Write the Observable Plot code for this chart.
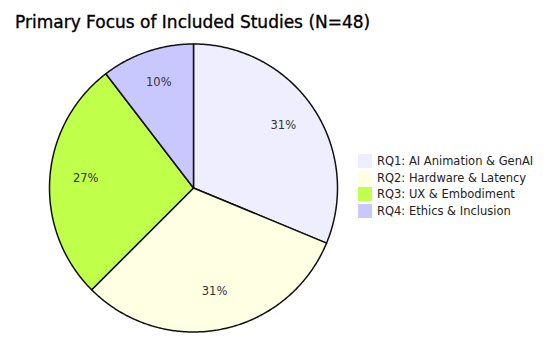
<!DOCTYPE html>
<html>
<head>
<meta charset="utf-8">
<script src="https://cdn.jsdelivr.net/npm/d3@7"></script>
<script src="https://cdn.jsdelivr.net/npm/@observablehq/plot@0.6"></script>
<style>
  body { margin: 0; background: #fff; font-family: "DejaVu Sans", sans-serif; }
  #wrap { position: relative; width: 550px; height: 348px; overflow: hidden; }
  #title { position: absolute; left: 15px; top: 12px; font-size: 17px; color: #000; white-space: nowrap; -webkit-text-stroke: 0.35px #000; }
  #chart { position: absolute; left: 0; top: 40px; }
  #legend { position: absolute; left: 358px; top: 153px; font-size: 11.5px; color: #222; }
  .row { height: 16.5px; display: flex; align-items: center; white-space: nowrap; }
  .sw { width: 14px; height: 14px; margin-right: 5px; }
</style>
</head>
<body>
<div id="wrap">
  <div id="title">Primary Focus of Included Studies (N=48)</div>
  <div id="chart"></div>
  <div id="legend"></div>
</div>
<script>
const categories = ["RQ1: AI Animation & GenAI", "RQ2: Hardware & Latency", "RQ3: UX & Embodiment", "RQ4: Ethics & Inclusion"];
const counts = [15, 15, 13, 5];
const percentLabels = ["31%", "31%", "27%", "10%"];
const colors = ["#eeeeff", "#ffffe3", "#c0ff4a", "#c8c8ff"];

const pie = d3.pie().sort(null).value(d => d.count)(categories.map((name, i) => ({name, count: counts[i], label: percentLabels[i]})));

// slice polygons in unit coordinates (angle measured clockwise from top)
const pts = [];
for (const s of pie) {
  pts.push({name: s.data.name, x: 0, y: 0});
  const n = Math.max(2, Math.ceil((s.endAngle - s.startAngle) / 0.01));
  for (let k = 0; k <= n; k++) {
    const a = s.startAngle + (s.endAngle - s.startAngle) * k / n;
    pts.push({name: s.data.name, x: Math.sin(a), y: Math.cos(a)});
  }
}
const labels = pie.map(s => {
  const a = (s.startAngle + s.endAngle) / 2;
  return {label: s.data.label, x: 0.75 * Math.sin(a), y: 0.75 * Math.cos(a)};
});

const cx = 193, cy = 147.5, R = 144;
const chart = Plot.plot({
  width: 550,
  height: 308,
  margin: 0,
  x: {domain: [-1, 1], range: [cx - R, cx + R], axis: null},
  y: {domain: [-1, 1], range: [cy + R, cy - R], axis: null},
  color: {domain: categories, range: colors},
  style: {background: "transparent", fontFamily: "DejaVu Sans, sans-serif"},
  marks: [
    Plot.line(pts, {x: "x", y: "y", z: "name", fill: "name", stroke: "#111", strokeWidth: 1.5, curve: "linear-closed", strokeLinejoin: "round"}),
    Plot.text(labels, {x: "x", y: "y", text: "label", fill: "#333", fontSize: 11.5, dy: -3})
  ]
});
document.getElementById("chart").appendChild(chart);

const legend = document.getElementById("legend");
categories.forEach((c, i) => {
  const row = document.createElement("div");
  row.className = "row";
  const sw = document.createElement("div");
  sw.className = "sw";
  sw.style.background = colors[i];
  const t = document.createElement("span");
  t.textContent = c;
  row.appendChild(sw); row.appendChild(t);
  legend.appendChild(row);
});
</script>
</body>
</html>
